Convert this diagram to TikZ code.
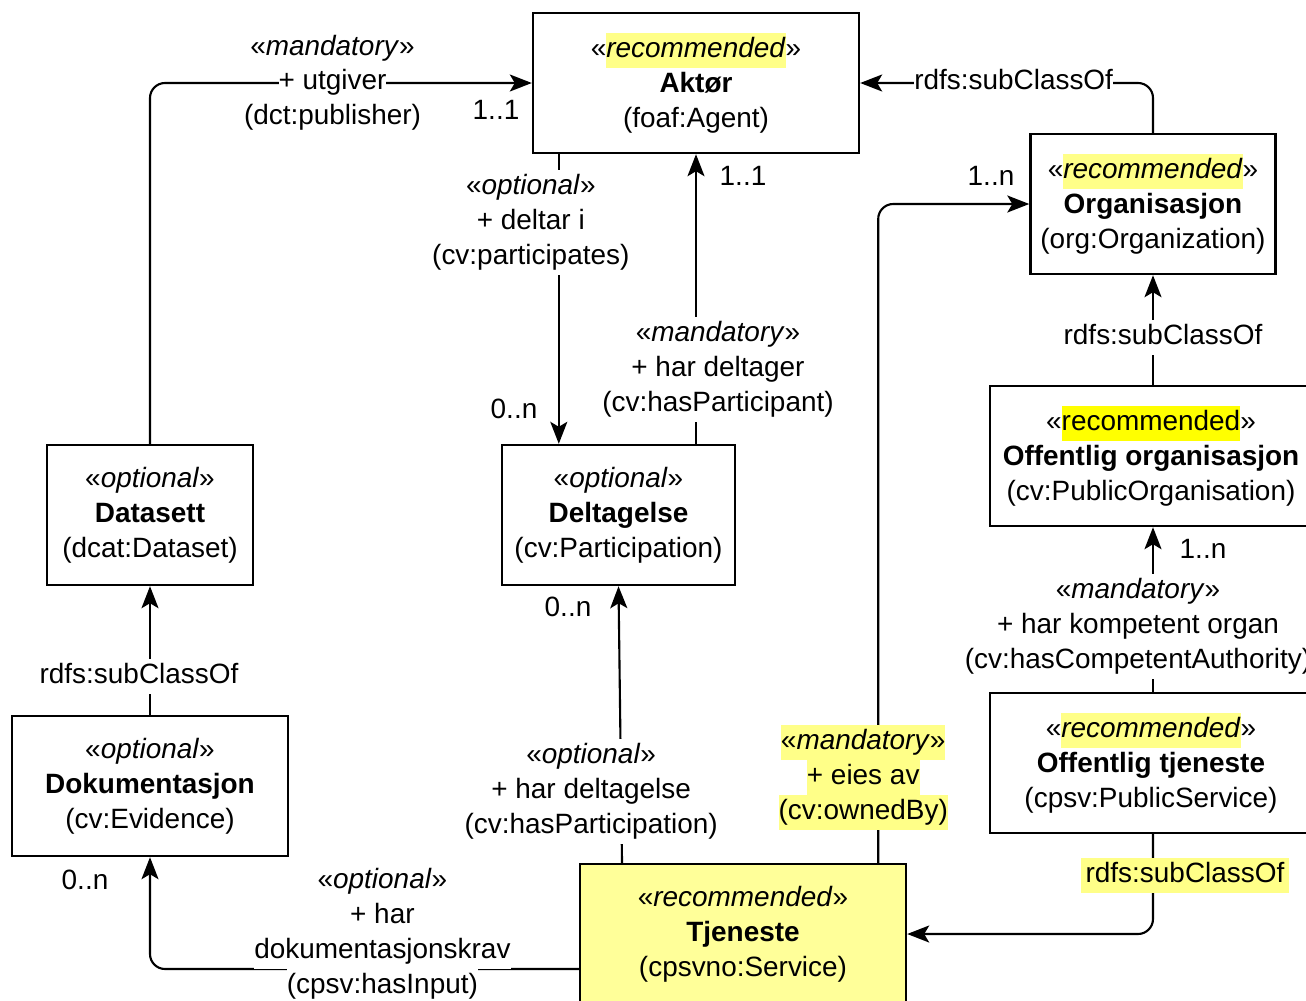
\documentclass[tikz,border=0pt]{standalone}
\usepackage{fontspec}
\setmainfont{Liberation Sans}
\usetikzlibrary{arrows.meta, positioning}
\definecolor{hlyellow}{HTML}{FFFF88}
\definecolor{hlstrong}{HTML}{FFFF00}
\definecolor{svcyellow}{HTML}{FFFF99}
\newcommand{\diagfont}{\fontsize{15.9}{19.9}\selectfont}
\newcommand{\hlword}[2][hlyellow]{{\setlength{\fboxsep}{0pt}\colorbox{#1}{\strut#2}}}
\newcommand{\wl}[1]{{\setlength{\fboxsep}{0pt}\colorbox{white}{\strut#1}}}
\tikzset{
>={Stealth[length=0.44cm, width=0.34cm, inset=0.1cm]}, % arrow head of the associations
class/.style={draw, line width=1.4pt, minimum width=6.52cm, minimum height=2.8cm, inner sep=0pt, align=center, font=\diagfont}, % a class box
assoc/.style={->, line width=1.2pt, rounded corners=0.3cm}, % an association
role/.style={inner sep=0pt, align=center, font=\diagfont}, % the text on an association
card/.style={inner sep=0pt, font=\diagfont}, % multiplicity
}

\begin{document}
\begin{tikzpicture}[x=0.02cm, y=-0.02cm]
\useasboundingbox (0,0) rectangle (1306,1001);

\node[class] (aktor) at (696,83) {«\hlword{\textit{recommended}}»\\ \textbf{Aktør}\\ (foaf:Agent)};
\node[class, minimum width=4.9cm] (org) at (1153,204) {«\hlword{\textit{recommended}}»\\ \textbf{Organisasjon}\\ (org:Organization)};
\node[class, minimum width=6.44cm] (offorg) at (1151,456) {«\hlword[hlstrong]{recommended}»\\ \textbf{Offentlig organisasjon}\\ (cv:PublicOrganisation)};
\node[class, minimum width=6.44cm] (offtj) at (1151,763) {«\hlword{\textit{recommended}}»\\ \textbf{Offentlig tjeneste}\\ (cpsv:PublicService)};
\node[class, minimum width=4.12cm] (datasett) at (150,515) {«\textit{optional}»\\ \textbf{Datasett}\\ (dcat:Dataset)};
\node[class, minimum width=5.52cm] (dok) at (150,786) {«\textit{optional}»\\ \textbf{Dokumentasjon}\\ (cv:Evidence)};
\node[class, minimum width=4.66cm] (deltagelse) at (618.5,515) {«\textit{optional}»\\ \textbf{Deltagelse}\\ (cv:Participation)};
\node[class, fill=svcyellow] (tjeneste) at (743,934) {«\textit{recommended}»\\ \textbf{Tjeneste}\\ (cpsvno:Service)};

\draw[assoc] (datasett.north) |- node[role, pos=0.739] {\wl{«\textit{mandatory}»}\\ \wl{+ utgiver}\\ \wl{(dct:publisher)}} (aktor.west);
\draw[assoc] ([xshift=0.54cm]aktor.south west) -- node[role, pos=0.236, xshift=-0.56cm] {\wl{«\textit{optional}»}\\ \wl{+ deltar i}\\ \wl{(cv:participates)}} ([xshift=0.54cm]aktor.south west |- deltagelse.north);
\draw[assoc] (aktor.south |- deltagelse.north) -- node[role, pos=0.257, xshift=0.44cm] {\wl{«\textit{mandatory}»}\\ \wl{+ har deltager}\\ \wl{(cv:hasParticipant)}} (aktor.south);
\draw[assoc] (org.north) |- node[role, pos=0.738] {\wl{rdfs:subClassOf}} (aktor.east);
\draw[assoc] (org.south |- offorg.north) -- node[role, pos=0.43, xshift=0.2cm] {\wl{rdfs:subClassOf}} (org.south);
\draw[assoc] ([xshift=-0.58cm]tjeneste.north east) |- node[role, pos=0.065, xshift=-0.3cm] {\hlword{«\textit{mandatory}»}\\ \hlword{+ eies av}\\ \hlword{(cv:ownedBy)}} (org.west);
\draw[assoc] ([xshift=0.04cm]offorg.south |- offtj.north) -- node[role, pos=0.395, xshift=-0.3cm] {\wl{«\textit{mandatory}»}\\ \wl{+ har kompetent organ}\\ \wl{(cv:hasCompetentAuthority)}} ([xshift=0.04cm]offorg.south);
\draw[assoc] ([xshift=0.04cm]offtj.south) |- node[role, pos=0.206, xshift=0.64cm] {\hlword{\,rdfs:subClassOf\,}} (tjeneste.east);
\draw[assoc] ([xshift=-2.42cm]tjeneste.north) -- node[role, pos=0.258, xshift=-0.6cm] {\wl{«\textit{optional}»}\\ \wl{+ har deltagelse}\\ \wl{(cv:hasParticipation)}} (deltagelse.south);
\draw[assoc] ([yshift=-0.7cm]tjeneste.west) -| node[role, pos=0.229, yshift=0.7cm] {\wl{«\textit{optional}»}\\ \wl{+ har}\\ \wl{dokumentasjonskrav}\\ \wl{(cpsv:hasInput)}} (dok.south);
\draw[assoc] (dok.north) -- node[role, pos=0.3, xshift=-0.22cm] {\wl{rdfs:subClassOf}} (datasett.south);

\node[card] (c-utgiver) at (496,110) {1..1};
\node[card] (c-deltager) at (743,176) {1..1};
\node[card] (c-eies) at (991,176) {1..n};
\node[card] (c-deltar) at (514,409) {0..n};
\node[card] (c-deltagelse) at (568,607) {0..n};
\node[card] (c-kompetent) at (1203,549) {1..n};
\node[card] (c-krav) at (85,880) {0..n};
\end{tikzpicture}
\end{document}
